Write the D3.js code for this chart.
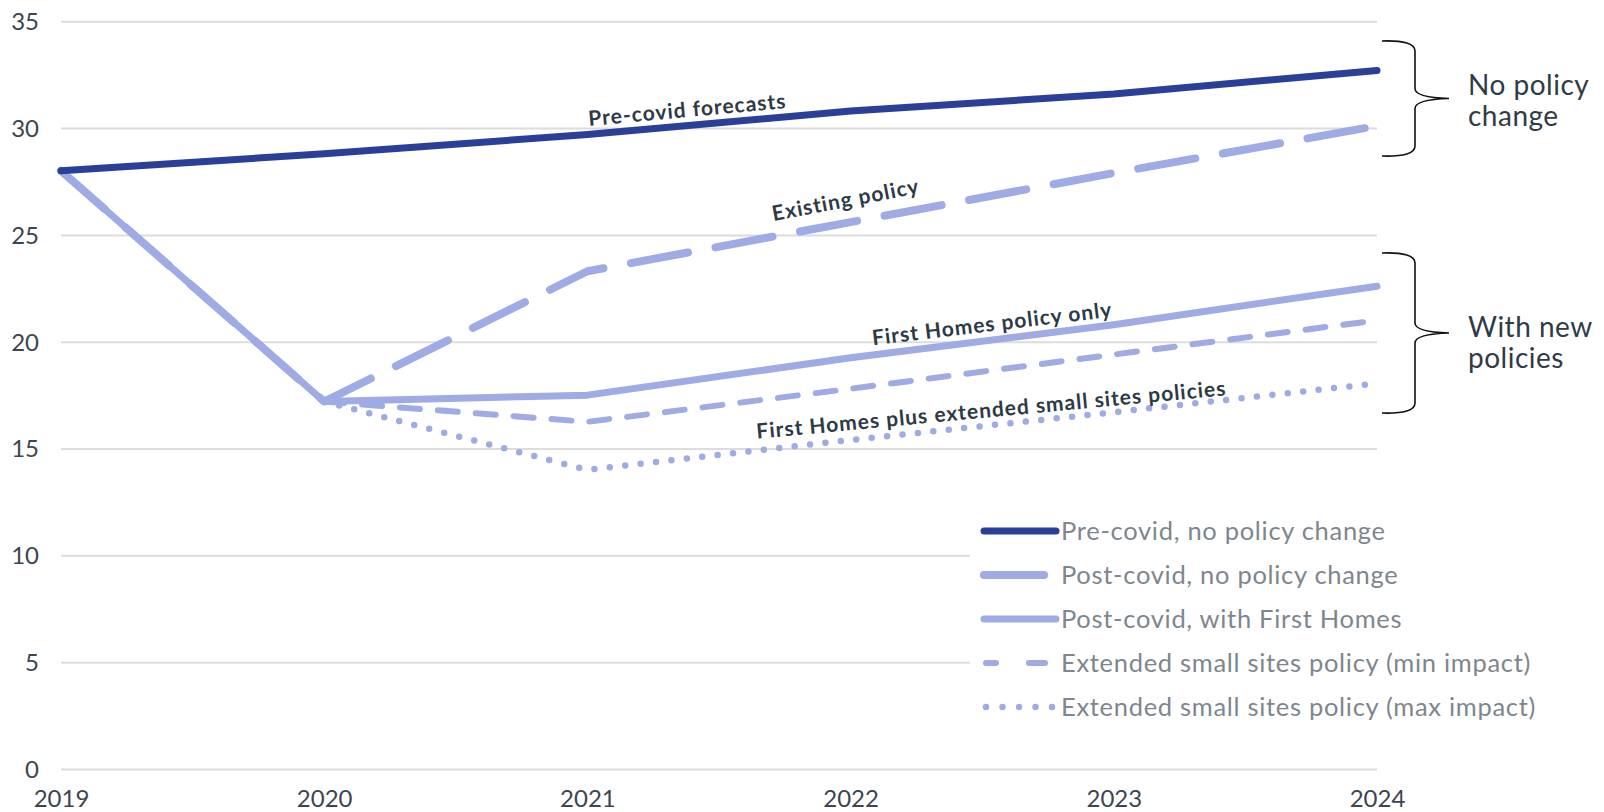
<!DOCTYPE html>
<html><head><meta charset="utf-8">
<script src="https://cdn.jsdelivr.net/npm/d3@7"></script>
<style>
body{margin:0;background:#fff;}
svg{display:block;font-family:Lato,"Open Sans",sans-serif;}
</style></head><body>
<svg id="c" width="1604" height="812"></svg>
<script>
const years = [2019, 2020, 2021, 2022, 2023, 2024];
const yTicks = [0, 5, 10, 15, 20, 25, 30, 35];
const preCovid = [28.0, 28.8, 29.7, 30.8, 31.6, 32.7];
const postCovidNoPolicy = [28.0, 17.2, 23.3, 25.6, 27.9, 30.1];
const postCovidFirstHomes = [28.0, 17.2, 17.5, 19.25, 20.8, 22.6];
const smallSitesMin = [null, 17.2, 16.25, 17.8, 19.4, 21.0];
const smallSitesMax = [null, 17.2, 14.0, 15.4, 16.7, 18.05];
const legendLabels = ["Pre-covid, no policy change", "Post-covid, no policy change", "Post-covid, with First Homes", "Extended small sites policy (min impact)", "Extended small sites policy (max impact)"];
const lineLabels = ["Pre-covid forecasts", "Existing policy", "First Homes policy only", "First Homes plus extended small sites policies"];
const braceLabels = [["No policy", "change"], ["With new", "policies"]];

const dark = "#2a3f97", light = "#9eabe4";
const styles = [
  {color: dark, w: 7, dash: null},
  {color: light, w: 8, dash: "58,28"},
  {color: light, w: 7, dash: null},
  {color: light, w: 6, dash: "20,18"},
  {color: light, w: 6.5, dash: "0,15.5"}
];
const seriesData = [preCovid, postCovidNoPolicy, postCovidFirstHomes, smallSitesMin, smallSitesMax];

const svg = d3.select("#c");
const x = d3.scaleLinear().domain([2019, 2024]).range([61, 1377]);
const y = d3.scaleLinear().domain([0, 35]).range([769, 21.3]);

// gridlines
const gridAxis = d3.axisLeft(y).tickValues(yTicks).tickSize(-(1377 - 61)).tickFormat("");
svg.append("g").attr("transform", "translate(61,0)").call(gridAxis)
  .call(g => g.select(".domain").remove())
  .call(g => g.selectAll("line").attr("stroke", "#dcdcdc").attr("stroke-width", 2));

// y tick labels
const yAx = d3.axisLeft(y).tickValues(yTicks).tickSize(0).tickPadding(0);
svg.append("g").attr("transform", "translate(39,0)").call(yAx)
  .call(g => g.select(".domain").remove())
  .call(g => g.selectAll("text").attr("font-family", "Lato").attr("font-size", 24).attr("fill", "#3b4650").attr("dy", "0.35em"));

// x tick labels
const xAx = d3.axisBottom(x).tickValues(years).tickFormat(d3.format("d")).tickSize(0).tickPadding(0);
svg.append("g").attr("transform", "translate(0,790)").call(xAx)
  .call(g => g.select(".domain").remove())
  .call(g => g.selectAll("text").attr("font-family", "Lato").attr("font-size", 24).attr("fill", "#3b4650").attr("dy", "0.72em"));

const line = d3.line().defined(d => d[1] != null).x(d => x(d[0])).y(d => y(d[1]));
const order = [4, 3, 1, 2, 0];
order.forEach(i => {
  const s = styles[i];
  const pts = years.map((yr, k) => [yr, seriesData[i][k]]);
  svg.append("path").attr("d", line(pts)).attr("fill", "none")
    .attr("stroke", s.color).attr("stroke-width", s.w)
    .attr("stroke-linecap", "round").attr("stroke-linejoin", "round")
    .attr("stroke-dasharray", s.dash);
});

// line labels
const lab = [
  {t: lineLabels[0], cx: 688, cy: 117, a: -5.2},
  {t: lineLabels[1], cx: 847, cy: 207, a: -10.8},
  {t: lineLabels[2], cx: 993, cy: 331, a: -6.8},
  {t: lineLabels[3], cx: 992, cy: 417, a: -5.3}
];
lab.forEach(l => {
  svg.append("text").attr("transform", `translate(${l.cx},${l.cy}) rotate(${l.a})`)
    .attr("text-anchor", "middle").attr("font-family", "Lato").attr("font-weight", 700)
    .attr("font-size", 21).attr("letter-spacing", 1).attr("fill", "#2d3a45").text(l.t);
});

// legend
const lg = svg.append("g");
lg.append("rect").attr("x", 970).attr("y", 502).attr("width", 600).attr("height", 228).attr("fill", "#fff");
const rowsY = [531, 575, 619, 663, 707];
const legendGeom = [
  {x1: 984, x2: 1056, dash: null},
  {x1: 984, x2: 1044, dash: null},
  {x1: 984, x2: 1056, dash: null},
  {x1: 986, x2: 1046, dash: "10,33,16,100"},
  {x1: 986, x2: 1054, dash: "0,16.5"}
];
legendLabels.forEach((t, i) => {
  const s = styles[i], gm = legendGeom[i];
  lg.append("line").attr("x1", gm.x1).attr("x2", gm.x2).attr("y1", rowsY[i]).attr("y2", rowsY[i])
    .attr("stroke", s.color).attr("stroke-width", s.w).attr("stroke-linecap", "round")
    .attr("stroke-dasharray", gm.dash);
  lg.append("text").attr("x", 1061).attr("y", rowsY[i]).attr("dy", "0.35em")
    .attr("font-family", "Lato").attr("font-size", 25.5).attr("letter-spacing", 0.7)
    .attr("fill", "#7d868e").text(t);
});

// braces
function brace(top, bot, xl, xv, xt) {
  const mid = (top + bot) / 2, r = 10;
  const p = d3.path();
  p.moveTo(xl, top);
  p.quadraticCurveTo(xv, top - 1, xv, top + r);
  p.lineTo(xv, mid - r);
  p.quadraticCurveTo(xv, mid - 1, xt, mid);
  p.quadraticCurveTo(xv, mid + 1, xv, mid + r);
  p.lineTo(xv, bot - r);
  p.quadraticCurveTo(xv, bot + 1, xl, bot);
  svg.append("path").attr("d", p.toString()).attr("fill", "none").attr("stroke", "#111").attr("stroke-width", 1.6);
}
brace(41, 156, 1382, 1415, 1449);
brace(253, 413, 1382, 1415, 1449);
const bl = [{y: 95, l: braceLabels[0]}, {y: 337, l: braceLabels[1]}];
bl.forEach(b => {
  b.l.forEach((t, k) => {
    svg.append("text").attr("x", 1468).attr("y", b.y + k * 31).attr("font-family", "Lato")
      .attr("font-size", 28).attr("letter-spacing", 0.5).attr("fill", "#2f3b46").text(t);
  });
});
</script>
</body></html>
